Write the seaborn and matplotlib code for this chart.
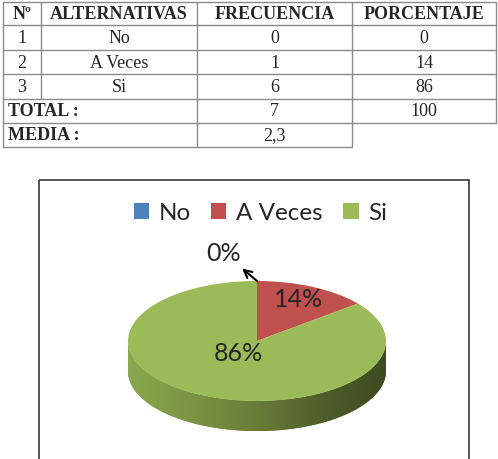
import numpy as np
import matplotlib
matplotlib.use("Agg")
import matplotlib.pyplot as plt
from matplotlib.patches import Polygon, Rectangle
from matplotlib.colors import LinearSegmentedColormap
import seaborn as sns

# ---------------- data ----------------
col_headers = ["Nº", "ALTERNATIVAS", "FRECUENCIA", "PORCENTAJE"]
row_nums = ["1", "2", "3"]
alternativas = ["No", "A Veces", "Si"]
frecuencia = [0, 1, 6]
porcentaje = [0, 14, 86]
total_label = "TOTAL :"
total_frecuencia = "7"
total_porcentaje = "100"
media_label = "MEDIA :"
media_value = "2,3"

# ---------------- style ----------------
sns.set_style("white")
palette = sns.color_palette(["#4F81BD", "#C0504D", "#9BBB59"])
SERIF = "Liberation Serif"
SANS = "Lato"

W, H = 498, 460
fig = plt.figure(figsize=(W / 100, H / 100), dpi=100)

# ---------------- pie axes (full figure, pixel-calibrated) ----------------
cx, cy, rx, ry, depth_px = 257, 342, 129, 60, 30
pax = fig.add_axes([0, 0, 1, 1])
depth = depth_px / ry

wedges, _ = pax.pie(frecuencia, colors=palette, startangle=90, counterclock=False,
                    radius=1, center=(0, 0), wedgeprops=dict(linewidth=0))
for w in wedges:
    w.set_zorder(3)

# 3D side with horizontal gradient
t = np.linspace(np.pi, 2 * np.pi, 300)
top = np.column_stack([np.cos(t), np.sin(t)])
bot = np.column_stack([np.cos(t[::-1]), np.sin(t[::-1]) - depth])
side = Polygon(np.vstack([top, bot]), closed=True, facecolor="#6B7D3A",
               edgecolor="none", transform=pax.transData, zorder=1)
pax.add_patch(side)
cmap = LinearSegmentedColormap.from_list(
    "side", [(0.0, "#8AA84E"), (0.25, "#7A9444"), (0.5, "#6A7C38"),
             (0.75, "#4F5E2B"), (1.0, "#3E4B22")])
im = pax.imshow(np.linspace(0, 1, 256)[None, :], cmap=cmap,
                extent=(-1, 1, -1 - depth, 0), aspect="auto", origin="lower", zorder=2)
im.set_clip_path(side)

pax.set_aspect("auto")
pax.set_xlim(-cx / rx, (W - cx) / rx)
pax.set_ylim(-(H - cy) / ry, cy / ry)
pax.axis("off")

# percentage labels
lab_r = [1.0, 0.78, 0.25]
lab_off = [(0, 0), (-2, 0), (-5, 2)]
for i, (w, p) in enumerate(zip(wedges, porcentaje)):
    mid = np.deg2rad((w.theta1 + w.theta2) / 2)
    if p == 0:
        ex, ey = np.cos(mid), np.sin(mid)
        pax.annotate(f"{p}%", xy=(ex, ey), xytext=(ex - 0.26, ey + 0.47),
                     ha="center", va="center", fontsize=18, family=SANS,
                     arrowprops=dict(arrowstyle="<-", color="black", lw=1.5,
                                     shrinkA=1, shrinkB=0, mutation_scale=14),
                     zorder=5)
    else:
        pax.annotate(f"{p}%", xy=(lab_r[i] * np.cos(mid), lab_r[i] * np.sin(mid)),
                     xytext=lab_off[i], textcoords="offset pixels",
                     ha="center", va="center", fontsize=18, family=SANS, zorder=5)

pax.legend(wedges, alternativas, loc="center", ncol=3, frameon=False,
           bbox_to_anchor=(260.5 / W, 1 - 214 / H), bbox_transform=fig.transFigure,
           prop=dict(family=SANS, size=17.5), handlelength=0.62, handleheight=0.62,
           handletextpad=0.4, columnspacing=0.85, borderaxespad=0, borderpad=0)

# ---------------- overlay (table + chart border) ----------------
ov = fig.add_axes([0, 0, 1, 1], zorder=-1)
ov.set_xlim(0, W)
ov.set_ylim(H, 0)
ov.axis("off")

# chart border
ov.add_patch(Rectangle((39, 181), 430, 300, fill=False, edgecolor="#3a3a3a", lw=1.2))

col_x = [3, 41, 197, 352, 496]
row_y = [3, 26, 51, 75, 100, 124, 148]
lc, lw = "#8a8a8a", 1.0
for y in row_y[:-1]:
    ov.plot([col_x[0], col_x[-1]], [y, y], color=lc, lw=lw)
ov.plot([col_x[0], col_x[3]], [row_y[-1]] * 2, color=lc, lw=lw)
ov.plot([col_x[0]] * 2, [row_y[0], row_y[-1]], color=lc, lw=lw)
ov.plot([col_x[1]] * 2, [row_y[0], row_y[4]], color=lc, lw=lw)
ov.plot([col_x[2]] * 2, [row_y[0], row_y[-1]], color=lc, lw=lw)
ov.plot([col_x[3]] * 2, [row_y[0], row_y[-1]], color=lc, lw=lw)
ov.plot([col_x[4]] * 2, [row_y[0], row_y[5]], color=lc, lw=lw)

centers = [(col_x[i] + col_x[i + 1]) / 2 for i in range(4)]
mids = [(row_y[i] + row_y[i + 1]) / 2 for i in range(6)]
fs = 13
for c, h in zip(centers, col_headers):
    ov.text(c, mids[0], h, ha="center", va="center", family=SERIF, fontsize=fs, fontweight="bold")
for r in range(3):
    vals = [row_nums[r], alternativas[r], str(frecuencia[r]), str(porcentaje[r])]
    for c, v in zip(centers, vals):
        ov.text(c, mids[r + 1], v, ha="center", va="center", family=SERIF, fontsize=fs)
ov.text(8, mids[4], total_label, ha="left", va="center", family=SERIF, fontsize=fs, fontweight="bold")
ov.text(centers[2], mids[4], total_frecuencia, ha="center", va="center", family=SERIF, fontsize=fs)
ov.text(centers[3], mids[4], total_porcentaje, ha="center", va="center", family=SERIF, fontsize=fs)
ov.text(8, mids[5], media_label, ha="left", va="center", family=SERIF, fontsize=fs, fontweight="bold")
ov.text(centers[2], mids[5], media_value, ha="center", va="center", family=SERIF, fontsize=fs)

fig.savefig("out.png", dpi=100)
